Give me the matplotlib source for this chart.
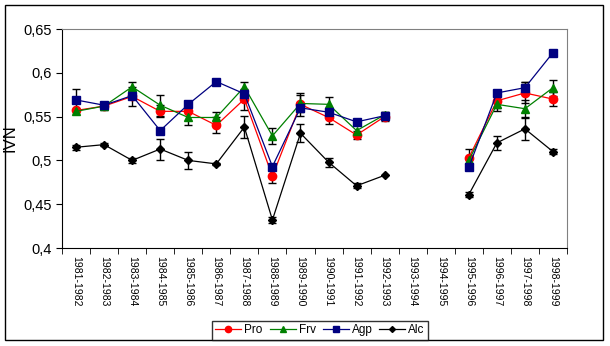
import numpy as np
import matplotlib
matplotlib.use('Agg')
import matplotlib.pyplot as plt
from matplotlib.patches import Rectangle

plt.rcParams['font.family'] = ['Liberation Sans', 'DejaVu Sans']

# ---- data ----
periods = ['1981-1982', '1982-1983', '1983-1984', '1984-1985', '1985-1986',
           '1986-1987', '1987-1988', '1988-1989', '1989-1990', '1990-1991',
           '1991-1992', '1992-1993', '1993-1994', '1994-1995', '1995-1996',
           '1996-1997', '1997-1998', '1998-1999']
nan = np.nan

pro = [0.557, 0.562, 0.573, 0.556, 0.556, 0.540, 0.570, 0.482, 0.564,
       0.549, 0.529, 0.550, nan, nan, 0.503, 0.568, 0.577, 0.570]
frv = [0.556, 0.562, 0.584, 0.563, 0.549, 0.549, 0.584, 0.528, 0.565,
       0.564, 0.534, 0.552, nan, nan, 0.500, 0.564, 0.559, 0.583]
agp = [0.569, 0.563, 0.574, 0.534, 0.564, 0.590, 0.576, 0.493, 0.560,
       0.555, 0.544, 0.551, nan, nan, 0.492, 0.577, 0.583, 0.623]
alc = [0.515, 0.518, 0.500, 0.513, 0.500, 0.496, 0.538, 0.432, 0.531,
       0.498, 0.471, 0.483, nan, nan, 0.461, 0.520, 0.536, 0.510]

pro_err = [0, 0, 0.011, 0.007, 0, 0.009, 0.012, 0.008, 0.013,
           0.008, 0.005, 0.005, 0, 0, 0.010, 0.008, 0.012, 0.008]
frv_err = [0, 0.004, 0.005, 0.012, 0.009, 0.006, 0.005, 0.009, 0.010,
           0.008, 0, 0, 0, 0, 0, 0.008, 0.010, 0.009]
agp_err = [0.012, 0.003, 0, 0, 0, 0, 0, 0, 0,
           0, 0, 0.004, 0, 0, 0, 0, 0.006, 0]
alc_err = [0.003, 0.002, 0.003, 0.012, 0.010, 0.001, 0.0125, 0.003, 0.010,
           0.005, 0.003, 0, 0, 0, 0.003, 0.008, 0.0125, 0.003]

series = [
    ('Pro', pro, pro_err, '#FF0000', 'o', 6),
    ('Frv', frv, frv_err, '#008000', '^', 6),
    ('Agp', agp, agp_err, '#000080', 's', 6),
    ('Alc', alc, alc_err, '#000000', 'D', 4),
]

fig = plt.figure(figsize=(6.10, 3.46), dpi=100)
ax = fig.add_axes([62 / 610, 1 - 248 / 346, 505 / 610, 219 / 346])

x = np.arange(len(periods))
for name, vals, errs, col, mk, ms in series:
    v = np.array(vals, dtype=float)
    e = np.array(errs, dtype=float)
    m = e > 0
    ax.errorbar(x[m], v[m], yerr=e[m], fmt='none', ecolor='black',
                elinewidth=1, capsize=3, capthick=1, zorder=2)
    ax.plot(x, v, color=col, marker=mk, ms=ms, lw=0.9, label=name, zorder=3)

ax.set_xlim(-0.5, len(periods) - 0.5)
ax.set_ylim(0.4, 0.65)
yt = [0.4, 0.45, 0.5, 0.55, 0.6, 0.65]
ax.set_yticks(yt)
ax.set_yticklabels([('%g' % t).replace('.', ',') for t in yt], fontsize=10.5)
ax.set_xticks(x)
ax.set_xticklabels(periods, rotation=270, fontsize=7.5)
ax.tick_params(axis='x', length=0, pad=6)
ax.set_xticks(np.arange(-0.5, len(periods)), minor=True)
ax.tick_params(axis='x', which='minor', length=4, direction='out')
ax.tick_params(axis='y', length=4, direction='out')
ax.set_ylabel('IVN', fontsize=12)
ax.yaxis.set_label_coords(-44 / 505, 0.5)

for s in ['top', 'right']:
    ax.spines[s].set_color('#808080')

leg = fig.legend(loc='lower center', bbox_to_anchor=(320 / 610, 6 / 346),
                 ncol=4, fontsize=8.5, frameon=True, fancybox=False,
                 edgecolor='black', borderpad=0.3, handlelength=2.2,
                 columnspacing=0.6, handletextpad=0.25, markerscale=0.75,
                 borderaxespad=0)
leg.get_frame().set_linewidth(1)

fig.patches.append(Rectangle((5 / 610, 6 / 346), 598 / 610, 335 / 346,
                             transform=fig.transFigure, fill=False,
                             edgecolor='black', lw=1))

fig.savefig('out.png', dpi=100)
